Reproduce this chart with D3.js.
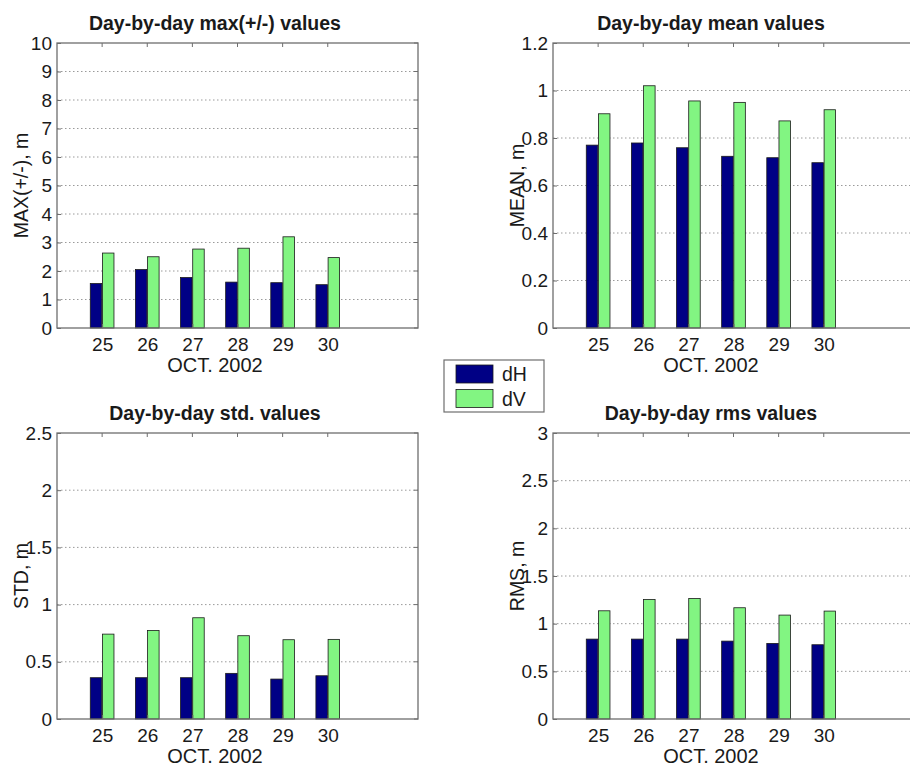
<!DOCTYPE html>
<html>
<head>
<meta charset="utf-8">
<script src="https://cdn.jsdelivr.net/npm/d3@7/dist/d3.min.js"></script>
<style>
  html, body { margin: 0; padding: 0; background: #ffffff; }
  svg { display: block; font-family: "Liberation Sans", Arial, sans-serif; }
</style>
</head>
<body>
<svg id="chart" width="910" height="767"></svg>
<script>
// Days of October 2002
const days = [25, 26, 27, 28, 29, 30];
const seriesNames = ["dH", "dV"];
const seriesColors = ["#000085", "#82f582"];

// Day-by-day statistics (metres)
const maxDH  = [1.56, 2.05, 1.77, 1.61, 1.59, 1.52];
const maxDV  = [2.63, 2.50, 2.77, 2.80, 3.20, 2.47];
const meanDH = [0.770, 0.779, 0.759, 0.723, 0.717, 0.696];
const meanDV = [0.902, 1.020, 0.956, 0.950, 0.872, 0.919];
const stdDH  = [0.361, 0.361, 0.361, 0.399, 0.349, 0.378];
const stdDV  = [0.742, 0.774, 0.885, 0.728, 0.693, 0.696];
const rmsDH  = [0.838, 0.838, 0.838, 0.817, 0.793, 0.779];
const rmsDV  = [1.135, 1.254, 1.264, 1.167, 1.090, 1.132];

// Tick values for each panel's y axis
const maxTicks  = [0, 1, 2, 3, 4, 5, 6, 7, 8, 9, 10];
const meanTicks = [0, 0.2, 0.4, 0.6, 0.8, 1, 1.2];
const stdTicks  = [0, 0.5, 1, 1.5, 2, 2.5];
const rmsTicks  = [0, 0.5, 1, 1.5, 2, 2.5, 3];

const xLabel = "OCT. 2002";
const xLimits = [24, 32];

const panels = [
  { title: "Day-by-day max(+/-) values", ylabel: "MAX(+/-), m", dH: maxDH, dV: maxDV, ticks: maxTicks,
    box: { left: 57, right: 418, top: 43, bottom: 328 } },
  { title: "Day-by-day mean values", ylabel: "MEAN, m", dH: meanDH, dV: meanDV, ticks: meanTicks,
    box: { left: 553, right: 914, top: 43, bottom: 328 } },
  { title: "Day-by-day std. values", ylabel: "STD, m", dH: stdDH, dV: stdDV, ticks: stdTicks,
    box: { left: 57, right: 418, top: 433, bottom: 719 } },
  { title: "Day-by-day rms values", ylabel: "RMS, m", dH: rmsDH, dV: rmsDV, ticks: rmsTicks,
    box: { left: 553, right: 914, top: 433, bottom: 719 } }
];

const svg = d3.select("#chart");
const textColor = "#1a1a1a";
const frameColor = "#6e6e6e";
const barHalfGap = 0.135;  // offset of each bar centre from the day, in day units
const barWidth = 0.255;    // bar width in day units

panels.forEach(p => {
  const b = p.box;
  const x = d3.scaleLinear().domain(xLimits).range([b.left, b.right]);
  const y = d3.scaleLinear().domain([0, d3.max(p.ticks)]).range([b.bottom, b.top]);
  const g = svg.append("g");

  // dotted grid lines at every y tick
  g.append("g").selectAll("line")
    .data(p.ticks.filter(t => t > 0 && t < d3.max(p.ticks)))
    .join("line")
    .attr("x1", b.left).attr("x2", b.right)
    .attr("y1", d => y(d)).attr("y2", d => y(d))
    .attr("stroke", "#9a9a9a").attr("stroke-width", 1)
    .attr("stroke-dasharray", "1.5,2.5");

  // bars
  const pxPerUnit = x(1) - x(0);
  const series = [p.dH, p.dV];
  series.forEach((vals, si) => {
    const off = si === 0 ? -barHalfGap : barHalfGap;
    g.append("g").selectAll("rect")
      .data(days.map((d, i) => ({ day: d, v: vals[i] })))
      .join("rect")
      .attr("x", d => x(d.day + off) - barWidth * pxPerUnit / 2)
      .attr("width", barWidth * pxPerUnit)
      .attr("y", d => y(d.v))
      .attr("height", d => y(0) - y(d.v))
      .attr("fill", seriesColors[si])
      .attr("stroke", "#1a1a1a").attr("stroke-width", 0.8);
  });

  // frame
  g.append("rect")
    .attr("x", b.left).attr("y", b.top)
    .attr("width", b.right - b.left).attr("height", b.bottom - b.top)
    .attr("fill", "none").attr("stroke", frameColor).attr("stroke-width", 1.3);

  // bottom axis with ticks mirrored on the top edge
  const xAxis = d3.axisBottom(x).tickValues(days).tickSizeInner(-4).tickSizeOuter(0).tickPadding(10)
    .tickFormat(d3.format("d"));
  const xg = g.append("g").attr("transform", `translate(0,${b.bottom})`).call(xAxis);
  xg.select(".domain").remove();
  xg.selectAll(".tick line").attr("stroke", frameColor);
  xg.selectAll(".tick text").attr("fill", textColor).attr("font-size", 19)
    .attr("font-family", "Liberation Sans, Arial, sans-serif");
  g.append("g").selectAll("line").data(days).join("line")
    .attr("x1", d => x(d)).attr("x2", d => x(d))
    .attr("y1", b.top).attr("y2", b.top + 4)
    .attr("stroke", frameColor);

  // left axis with ticks mirrored on the right edge
  const yAxis = d3.axisLeft(y).tickValues(p.ticks).tickSizeInner(-4).tickSizeOuter(0).tickPadding(5)
    .tickFormat(d => String(+d.toFixed(2)));
  const yg = g.append("g").attr("transform", `translate(${b.left},0)`).call(yAxis);
  yg.select(".domain").remove();
  yg.selectAll(".tick line").attr("stroke", frameColor);
  yg.selectAll(".tick text").attr("fill", textColor).attr("font-size", 19)
    .attr("font-family", "Liberation Sans, Arial, sans-serif");
  g.append("g").selectAll("line").data(p.ticks).join("line")
    .attr("x1", b.right - 4).attr("x2", b.right)
    .attr("y1", d => y(d)).attr("y2", d => y(d))
    .attr("stroke", frameColor);

  const mid = x(d3.mean(days));

  // title
  g.append("text")
    .attr("x", mid).attr("y", b.top - 13)
    .attr("text-anchor", "middle")
    .attr("font-size", 19.5).attr("font-weight", "bold").attr("fill", textColor)
    .text(p.title);

  // x label
  g.append("text")
    .attr("x", mid).attr("y", b.bottom + 44)
    .attr("text-anchor", "middle")
    .attr("font-size", 20).attr("fill", textColor)
    .text(xLabel);

  // y label
  const yc = (b.top + b.bottom) / 2;
  g.append("text")
    .attr("transform", `translate(${b.left - 29},${yc}) rotate(-90)`)
    .attr("text-anchor", "middle")
    .attr("font-size", 19.5).attr("fill", textColor)
    .text(p.ylabel);
});

// legend
const legend = svg.append("g").attr("transform", "translate(444,360)");
legend.append("rect")
  .attr("width", 100).attr("height", 52)
  .attr("fill", "#ffffff").attr("stroke", frameColor).attr("stroke-width", 1.2);
const items = legend.selectAll("g.item").data(seriesNames).join("g")
  .attr("class", "item")
  .attr("transform", (d, i) => `translate(12,${5 + i * 24.5})`);
items.append("rect")
  .attr("width", 37).attr("height", 18)
  .attr("fill", (d, i) => seriesColors[i])
  .attr("stroke", "#1a1a1a").attr("stroke-width", 0.8);
items.append("text")
  .attr("x", 46).attr("y", 16)
  .attr("font-size", 19.5).attr("fill", textColor)
  .text(d => d);
</script>
</body>
</html>
